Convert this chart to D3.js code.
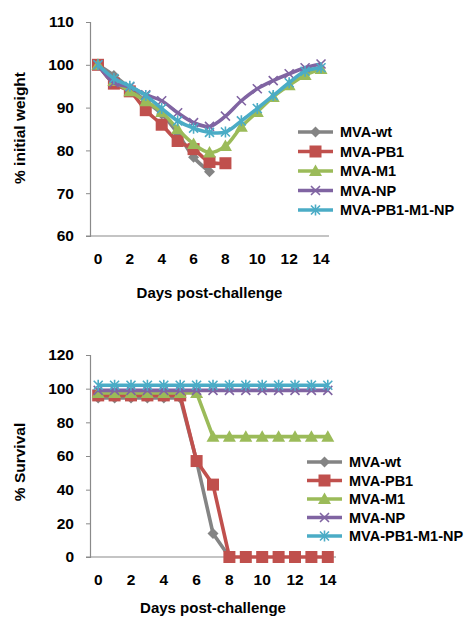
<!DOCTYPE html>
<html>
<head>
<meta charset="utf-8">
<script src="https://cdn.jsdelivr.net/npm/d3@7"></script>
<style>
  body { margin: 0; background: #fff; }
  svg text { font-family: "Liberation Sans", Arial, sans-serif; font-weight: bold; fill: #000; }
</style>
</head>
<body>
<svg id="chart" width="468" height="618"></svg>
<script>
// datos
const days = [0, 1, 2, 3, 4, 5, 6, 7, 8, 9, 10, 11, 12, 13, 14];
const dayLabels = [0, 2, 4, 6, 8, 10, 12, 14];
const seriesNames = ["MVA-wt", "MVA-PB1", "MVA-M1", "MVA-NP", "MVA-PB1-M1-NP"];

// peso (% initial weight)
const wtWeight = [100, 97.5, 94.5, 91.5, 88.5, 84, 78.4, 75];
const pb1Weight = [100, 95.6, 93.8, 89.4, 86, 82.2, 80.3, 77.3, 77];
const m1Weight = [100, 96.2, 93.8, 91.5, 89, 85, 81.5, 79.5, 81, 85.5, 89, 92.5, 95.2, 97.6, 99];
const npWeight = [100, 95.8, 94.8, 93, 91.6, 88.8, 86.5, 85.6, 88, 91.6, 94.4, 96.3, 97.9, 99.3, 100.2];
const triWeight = [100, 96.8, 95, 92.8, 89.8, 86.9, 85.2, 84.2, 84.3, 86.9, 89.8, 92.8, 95.8, 98.5, 99.3];
const weightTicks = [60, 70, 80, 90, 100, 110];

// supervivencia (% Survival)
const wtSurv = [94.5, 94.5, 94.5, 94.5, 94.5, 94.5, 57, 14, 0];
const pb1Surv = [96, 96, 96, 96, 96, 96, 57, 43, 0, 0, 0, 0, 0, 0, 0];
const m1Surv = [97.5, 97.5, 97.5, 97.5, 97.5, 97.5, 97.5, 71.5, 71.5, 71.5, 71.5, 71.5, 71.5, 71.5, 71.5];
const npSurv = [99, 99, 99, 99, 99, 99, 99, 99, 99, 99, 99, 99, 99, 99, 99];
const triSurv = [102, 102, 102, 102, 102, 102, 102, 102, 102, 102, 102, 102, 102, 102, 102];
const survTicks = [0, 20, 40, 60, 80, 100, 120];

const colores = ["#848484", "#C0504D", "#9BBB59", "#8064A2", "#4BACC6"];
const marcas = ["diamond", "square", "triangle", "x", "star"];

const svg = d3.select("#chart");

// dibuja un marcador segun el tipo
function marker(g, tipo, color, x, y) {
  if (tipo == "diamond") {
    g.append("path").attr("d", `M${x},${y - 5.5}L${x + 5.5},${y}L${x},${y + 5.5}L${x - 5.5},${y}Z`).attr("fill", color);
  } else if (tipo == "square") {
    g.append("rect").attr("x", x - 6).attr("y", y - 6).attr("width", 12).attr("height", 12).attr("fill", color);
  } else if (tipo == "triangle") {
    g.append("path").attr("d", `M${x},${y - 6.5}L${x + 6.5},${y + 5}L${x - 6.5},${y + 5}Z`).attr("fill", color);
  } else if (tipo == "x") {
    g.append("path").attr("d", `M${x - 4.5},${y - 4.5}L${x + 4.5},${y + 4.5}M${x - 4.5},${y + 4.5}L${x + 4.5},${y - 4.5}`)
      .attr("stroke", color).attr("stroke-width", 1.6).attr("fill", "none");
  } else {
    g.append("path").attr("d", `M${x - 4.5},${y - 4.5}L${x + 4.5},${y + 4.5}M${x - 4.5},${y + 4.5}L${x + 4.5},${y - 4.5}M${x},${y - 5.5}L${x},${y + 5.5}`)
      .attr("stroke", color).attr("stroke-width", 1.6).attr("fill", "none");
  }
}

function graficar(cfg) {
  let x = d3.scalePoint().domain(days).range([cfg.left, cfg.right]).padding(0.5);
  let y = d3.scaleLinear().domain(cfg.domain).range([cfg.bottom, cfg.top]);

  // eje y
  let ejeY = svg.append("g")
    .attr("transform", `translate(${cfg.left},0)`)
    .call(d3.axisLeft(y).tickValues(cfg.ticks).tickSize(4).tickPadding(12));
  ejeY.select(".domain").attr("stroke", "#8a8a8a").attr("stroke-width", 1.2);
  ejeY.selectAll(".tick line").attr("stroke", "#8a8a8a");
  ejeY.selectAll("text").style("font-size", "15.5px");

  // eje x (sin marcas)
  svg.append("line")
    .attr("x1", cfg.left - 4).attr("x2", cfg.right)
    .attr("y1", cfg.bottom).attr("y2", cfg.bottom)
    .attr("stroke", "#8a8a8a").attr("stroke-width", 1.2);
  svg.selectAll(null)
    .data(dayLabels)
    .enter()
    .append("text")
    .attr("x", (d) => x(d))
    .attr("y", cfg.bottom + 28)
    .attr("text-anchor", "middle")
    .style("font-size", "15.5px")
    .text((d) => d);

  svg.append("text")
    .attr("x", (cfg.left + cfg.right) / 2)
    .attr("y", cfg.bottom + cfg.xTitleGap)
    .attr("text-anchor", "middle")
    .style("font-size", "15px")
    .text("Days post-challenge");

  svg.append("text")
    .attr("transform", `translate(25,${cfg.titleY}) rotate(-90)`)
    .attr("text-anchor", "middle")
    .style("font-size", "15.5px")
    .text(cfg.yTitle);

  let linea = d3.line()
    .x((d, i) => x(days[i]))
    .y((d) => y(d))
    .curve(cfg.curve);

  cfg.series.forEach((datos, s) => {
    let g = svg.append("g");
    g.append("path")
      .attr("d", linea(datos))
      .attr("fill", "none")
      .attr("stroke", colores[s])
      .attr("stroke-width", 3.6)
      .attr("stroke-linejoin", "round");
    datos.forEach((d, i) => {
      marker(g, marcas[s], colores[s], x(days[i]), y(d));
    });
  });

  // leyenda
  seriesNames.forEach((nombre, s) => {
    let yy = cfg.legY + s * cfg.legStep;
    let g = svg.append("g");
    g.append("line")
      .attr("x1", cfg.legX).attr("x2", cfg.legX + 35)
      .attr("y1", yy).attr("y2", yy)
      .attr("stroke", colores[s]).attr("stroke-width", 3.6);
    marker(g, marcas[s], colores[s], cfg.legX + 17.5, yy);
    g.append("text")
      .attr("x", cfg.legX + 42)
      .attr("y", yy + 5)
      .style("font-size", "14.5px")
      .text(nombre);
  });
}

graficar({
  left: 90, right: 329, top: 22, bottom: 236,
  domain: [60, 110], ticks: weightTicks,
  yTitle: "% initial weight", titleY: 128, xTitleGap: 62,
  series: [wtWeight, pb1Weight, m1Weight, npWeight, triWeight],
  curve: d3.curveCatmullRom.alpha(0.5),
  legX: 298, legY: 132, legStep: 19.5
});

graficar({
  left: 90, right: 336, top: 355, bottom: 557,
  domain: [0, 120], ticks: survTicks,
  yTitle: "% Survival", titleY: 462, xTitleGap: 56,
  series: [wtSurv, pb1Surv, m1Surv, npSurv, triSurv],
  curve: d3.curveLinear,
  legX: 307, legY: 462, legStep: 18.5
});
</script>
</body>
</html>
